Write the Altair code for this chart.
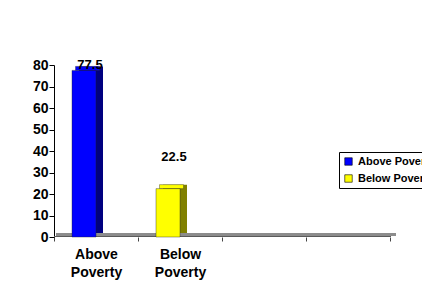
import altair as alt
import pandas as pd

categories = ["Above Poverty", "Below Poverty"]
values = [77.5, 22.5]
slots = ["Above Poverty", "Below Poverty", "slot3", "slot4"]
front_colors = ["#0000FF", "#FFFF00"]
side_colors = ["#000080", "#808000"]
y_ticks = [0, 10, 20, 30, 40, 50, 60, 70, 80]

df = pd.DataFrame({"category": categories, "value": values})

FONT = "Liberation Sans"
W, H = 336, 172
DEPTH_UNITS = 4 * 80 / H  # 4 px of 3D rise in data units

xaxis = alt.Axis(title=None, domain=False, tickBand="extent", tickSize=4, tickColor="#444444",
                 labelExpr="indexof(datum.label, 'slot') == 0 ? '' : split(datum.label, ' ')",
                 labelFont=FONT, labelFontSize=14, labelFontWeight="bold", labelColor="black",
                 labelAngle=0, labelPadding=6, labelLineHeight=18, labelBaseline="top")
xenc = alt.X("category:N", scale=alt.Scale(domain=slots, paddingInner=0, paddingOuter=0), axis=xaxis)
yscale = alt.Scale(domain=[0, 80], nice=False)
yaxis = alt.Axis(title=None, values=y_ticks, tickCount=9, grid=False, domainColor="black", tickColor="black",
                 tickSize=5, labelPadding=1, labelFont=FONT, labelFontSize=14, labelOverlap=False,
                 labelFontWeight="bold", labelColor="black")
yenc = alt.Y("value:Q", scale=yscale, axis=yaxis, stack=None)

base = alt.Chart(df)

side = base.transform_calculate(cs="datum.category").mark_bar(
    size=24, xOffset=-5, yOffset=-4, y2Offset=-4).encode(
    x=xenc, y=yenc, y2=alt.datum(0),
    color=alt.Color("cs:N", scale=alt.Scale(domain=categories, range=side_colors), legend=None))

top = base.transform_calculate(ct="datum.category", vt=f"datum.value + {DEPTH_UNITS}").mark_bar(
    size=24, xOffset=-8.5, stroke="#333333", strokeWidth=0.4).encode(
    x=xenc, y=alt.Y("vt:Q", scale=yscale, axis=yaxis, stack=None), y2=alt.Y2("value"),
    color=alt.Color("ct:N", scale=alt.Scale(domain=categories, range=front_colors), legend=None))

front = base.mark_bar(size=24, xOffset=-12, stroke="#222222", strokeWidth=0.4).encode(
    x=xenc, y=yenc,
    color=alt.Color("category:N", scale=alt.Scale(domain=categories, range=front_colors),
                    legend=alt.Legend(title=None, orient="none", legendX=285, legendY=87,
                                      symbolType="square", symbolSize=56, symbolStrokeColor="black",
                                      symbolStrokeWidth=0.6, labelFont=FONT, labelFontSize=11,
                                      labelFontWeight="bold", labelColor="black", labelLimit=300,
                                      labelOffset=4, padding=4, rowPadding=5,
                                      strokeColor="black", fillColor="white")))

floor = alt.Chart(pd.DataFrame({"k": [0]})).mark_rect(color="#8c8c8c").encode(
    x=alt.value(2), x2=alt.value(342), y=alt.value(H - 4), y2=alt.value(H - 1))
floor_edge = alt.Chart(pd.DataFrame({"k": [0]})).mark_rule(color="#5a5a5a", strokeWidth=1).encode(
    x=alt.value(0), x2=alt.value(337), y=alt.value(H - 0.5))

labels = base.transform_calculate(ly="min(datum.value + 14.5, 80)").mark_text(
    font=FONT, fontSize=13, fontWeight="bold", color="black", xOffset=-6, baseline="middle").encode(
    x=xenc, y=alt.Y("ly:Q", scale=yscale, axis=yaxis), text=alt.Text("value:Q", format=".1f"))

chart = alt.layer(floor, floor_edge, side, top, front, labels).resolve_scale(color="independent").properties(
    width=W, height=H,
    autosize=alt.AutoSizeParams(type="none"),
    padding={"left": 54, "top": 65, "right": 32, "bottom": 57},
).configure_view(strokeWidth=0, stroke=None)

chart.save("out.html", embed_options={"renderer": "svg", "actions": False})
